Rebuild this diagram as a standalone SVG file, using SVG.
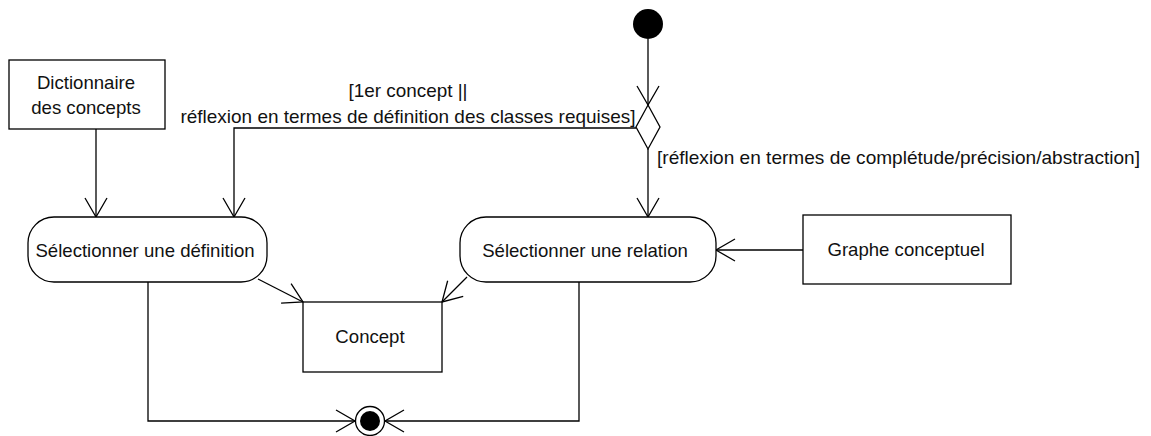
<svg xmlns="http://www.w3.org/2000/svg" width="1151" height="436" viewBox="0 0 1151 436">
<style>
.box{fill:#fff;stroke:#000;stroke-width:1.3}
.t{font-family:"Liberation Sans",Arial,sans-serif;font-size:18.6px;fill:#111;text-anchor:middle}
.tl{font-family:"Liberation Sans",Arial,sans-serif;font-size:18.6px;fill:#111}
.c{fill:none;stroke:#000;stroke-width:1.3}
</style>
<defs>
<marker id="arr" markerUnits="userSpaceOnUse" markerWidth="22" markerHeight="24" viewBox="-20 -12 22 24" refX="0" refY="0" orient="auto" overflow="visible">
<path d="M-19,-11 L0,0 L-19,11" fill="none" stroke="#000" stroke-width="1.3"/>
</marker>
</defs>
<rect width="1151" height="436" fill="#fff"/>
<g id="connectors">
<path class="c" d="M96,129 V217" marker-end="url(#arr)"/>
<path class="c" d="M636,128 H234 V217" marker-end="url(#arr)"/>
<path class="c" d="M648,39 V105" marker-end="url(#arr)"/>
<path class="c" d="M648,149 V217" marker-end="url(#arr)"/>
<path class="c" d="M803,250 H716" marker-end="url(#arr)"/>
<path class="c" d="M258,279 L303,302" marker-end="url(#arr)"/>
<path class="c" d="M467,277 L442,302" marker-end="url(#arr)"/>
<path class="c" d="M148,282 V421 H355" marker-end="url(#arr)"/>
<path class="c" d="M579,282 V421 H385" marker-end="url(#arr)"/>
<text class="t" x="408" y="97" textLength="119" lengthAdjust="spacingAndGlyphs">[1er concept ||</text>
<text class="t" x="408" y="123" textLength="455" lengthAdjust="spacingAndGlyphs">réflexion en termes de définition des classes requises]</text>
<text class="tl" x="657" y="164" textLength="483" lengthAdjust="spacingAndGlyphs">[réflexion en termes de complétude/précision/abstraction]</text>
</g>
<g id="initial"><circle cx="648" cy="24" r="15" fill="#000"/></g>
<g id="decision"><path class="box" d="M648,105 L660,127 L648,149 L636,127 Z"/></g>
<g id="dictionnaire">
<rect class="box" x="9" y="60" width="156" height="69"/>
<text class="t" x="86" y="89">Dictionnaire</text>
<text class="t" x="86" y="114">des concepts</text>
</g>
<g id="select-definition">
<rect class="box" x="28" y="217" width="239" height="65" rx="26" ry="26"/>
<text class="t" x="145" y="257">Sélectionner une définition</text>
</g>
<g id="select-relation">
<rect class="box" x="460" y="217" width="256" height="65" rx="26" ry="26"/>
<text class="t" x="585" y="257">Sélectionner une relation</text>
</g>
<g id="graphe">
<rect class="box" x="803" y="215" width="208" height="69"/>
<text class="t" x="906" y="256">Graphe conceptuel</text>
</g>
<g id="concept">
<rect class="box" x="303" y="302" width="139" height="70"/>
<text class="t" x="370" y="343">Concept</text>
</g>
<g id="final">
<circle cx="370" cy="421" r="14.5" fill="#fff" stroke="#000" stroke-width="1.3"/>
<circle cx="370" cy="421" r="10" fill="#000"/>
</g>
</svg>
